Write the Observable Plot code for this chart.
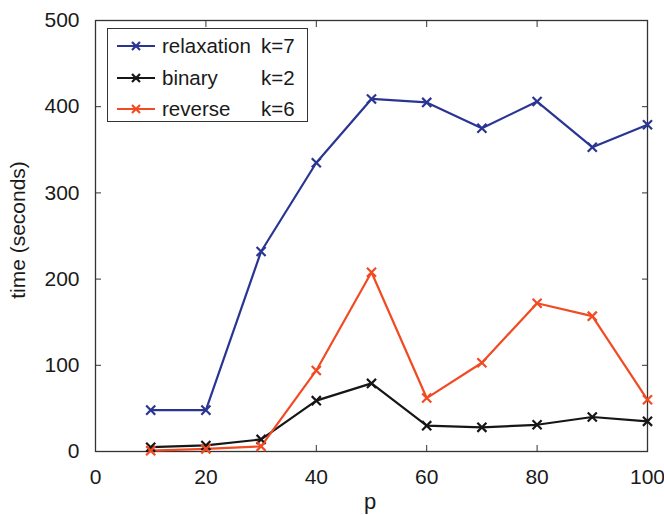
<!DOCTYPE html>
<html><head><meta charset="utf-8">
<script src="https://cdn.jsdelivr.net/npm/d3@7"></script>
<script src="https://cdn.jsdelivr.net/npm/@observablehq/plot@0.6"></script>
<style>
body{margin:0;background:#fff;font-family:"Liberation Sans",Arial,sans-serif;}
#wrap{position:relative;width:664px;height:515px;}
#legend{position:absolute;left:107px;top:28px;width:201px;height:94px;border:1.3px solid #333;background:#fff;box-sizing:border-box;font-size:20.5px;color:#1a1a1a;}
.row{position:absolute;left:0;height:22px;width:100%;}
.row svg{position:absolute;left:9px;top:0;}
.row .n{position:absolute;left:54px;top:0;line-height:22px;}
.row .k{position:absolute;left:153px;top:0;line-height:22px;}
</style></head>
<body><div id="wrap"></div>
<script>
const p = [10,20,30,40,50,60,70,80,90,100];
const relaxation = [48,48,232,335,409,405,375,406,353,379];
const binary = [5,7,14,59,79,30,28,31,40,35];
const reverse = [1,3,6,94,208,62,103,172,157,60];
const seriesNames = ["relaxation","binary","reverse"];
const seriesK = ["k=7","k=2","k=6"];
const colors = ["#2a3593","#161616","#f24a22"];
const xTicks = [0,20,40,60,80,100];
const yTicks = [0,100,200,300,400,500];

const all = [relaxation,binary,reverse];
const data = [];
all.forEach((s,i)=>s.forEach((v,j)=>data.push({p:p[j],t:v,s:seriesNames[i]})));

const chart = Plot.plot({
  width:664, height:515,
  marginLeft:95, marginRight:17, marginTop:20, marginBottom:64,
  style:{fontFamily:"Liberation Sans, Arial, sans-serif", fontSize:"21px", color:"#1a1a1a"},
  x:{domain:[0,100], ticks:xTicks, label:null},
  y:{domain:[0,500], ticks:yTicks, label:null},
  color:{domain:seriesNames, range:colors},
  marks:[
    Plot.axisX({ticks:xTicks, tickSize:-6, tickPadding:24, fontSize:21, label:null, stroke:"#333"}),
    Plot.axisX({ticks:xTicks, anchor:"top", tickSize:-6, text:null, label:null, stroke:"#333"}),
    Plot.axisY({ticks:yTicks, tickSize:-6, tickPadding:22, fontSize:21, label:null, stroke:"#333"}),
    Plot.axisY({ticks:yTicks, anchor:"right", tickSize:-6, text:null, label:null, stroke:"#333"}),
    Plot.frame({stroke:"#333", strokeWidth:1.3}),
    Plot.line(data,{x:"p",y:"t",stroke:"s",z:"s",strokeWidth:2.2}),
    Plot.dot(data,{x:"p",y:"t",stroke:"s",symbol:"times",r:4.2,strokeWidth:2.2})
  ]
});
const wrap = document.getElementById("wrap");
wrap.appendChild(chart);

// axis titles
const svg = d3.select(chart);
svg.append("text").attr("x",370).attr("y",509).attr("text-anchor","middle")
  .attr("font-size",22).attr("fill","#1a1a1a").text("p");
svg.append("text").attr("transform","translate(25,230) rotate(-90)").attr("text-anchor","middle")
  .attr("font-size",21).attr("fill","#1a1a1a").text("time (seconds)");

// legend
const lg = document.createElement("div");
lg.id="legend";
seriesNames.forEach((n,i)=>{
  const r=document.createElement("div");
  r.className="row"; r.style.top=(6+i*31.5)+"px";
  r.innerHTML=`<svg width="40" height="22"><line x1="0" y1="11" x2="38" y2="11" stroke="${colors[i]}" stroke-width="2.2"/>
  <path d="M15,7 L23,15 M23,7 L15,15" stroke="${colors[i]}" stroke-width="2.2"/></svg>
  <span class="n">${n}</span><span class="k">${seriesK[i]}</span>`;
  lg.appendChild(r);
});
wrap.appendChild(lg);
</script></body></html>
